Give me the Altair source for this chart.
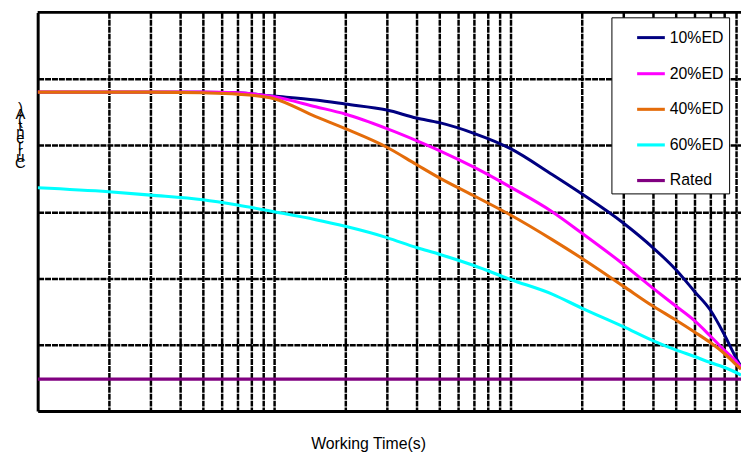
import altair as alt
import pandas as pd

# Working time (s) sample points, log-scaled x axis
times = [1, 2, 3, 5, 7, 10, 15, 20, 30, 40, 50, 70, 100, 150, 200, 300,
         400, 500, 600, 700, 800, 900, 944]

# Current values (grid step = 1 unit)
ed10 = [4.80, 4.80, 4.80, 4.80, 4.79, 4.74, 4.68, 4.62, 4.53, 4.41, 4.34, 4.18,
        3.95, 3.56, 3.27, 2.83, 2.46, 2.13, 1.80, 1.52, 1.16, 0.80, 0.67]
ed20 = [4.80, 4.80, 4.80, 4.80, 4.79, 4.73, 4.58, 4.47, 4.25, 4.07, 3.92, 3.67,
        3.37, 3.00, 2.68, 2.21, 1.85, 1.58, 1.36, 1.13, 0.92, 0.75, 0.66]
ed40 = [4.80, 4.80, 4.80, 4.79, 4.77, 4.70, 4.43, 4.25, 3.97, 3.71, 3.51, 3.24,
        2.95, 2.58, 2.30, 1.88, 1.58, 1.37, 1.19, 1.03, 0.87, 0.70, 0.63]
ed60 = [3.36, 3.30, 3.25, 3.18, 3.10, 3.00, 2.88, 2.78, 2.61, 2.46, 2.36, 2.19,
        1.98, 1.76, 1.55, 1.27, 1.06, 0.92, 0.82, 0.73, 0.66, 0.58, 0.54]
rated_times = [1, 944]
rated = [0.48, 0.48]

series_names = ["10%ED", "20%ED", "40%ED", "60%ED", "Rated"]
colors = ["#000080", "#FF00FF", "#E46C0A", "#00FFFF", "#800080"]
widths = [3, 3.2, 3, 2, 3]

x_grid = [2, 3, 4, 5, 6, 7, 8, 9, 10, 20, 30, 40, 50, 60, 70, 80, 90,
          100, 200, 300, 400, 500, 600, 700, 800, 900]
y_grid = [1, 2, 3, 4, 5]

x_title = "Working Time(s)"
y_title = [")", "A", "(", "t", "n", "e", "r", "r", "u", "C"]

rows = []
for t, v in zip(rated_times, rated):
    rows.append({"time": t, "current": v, "series": "Rated"})
for name, vals in [("60%ED", ed60), ("10%ED", ed10), ("20%ED", ed20), ("40%ED", ed40)]:
    for t, v in zip(times, vals):
        rows.append({"time": t, "current": v, "series": name})
df = pd.DataFrame(rows)

FONT = "Liberation Sans"

lines = alt.Chart(df).mark_line(interpolate="monotone", clip=True).encode(
    x=alt.X(
        "time:Q",
        scale=alt.Scale(type="log", domain=[1, 944], nice=False),
        axis=alt.Axis(
            values=x_grid, labels=False, ticks=False, grid=True,
            gridColor="black", gridWidth=2.5, gridDash=[6, 1], gridOpacity=1,
            domainColor="black", domainWidth=3,
            title=x_title, titleFont=FONT, titleFontSize=16,
            titleFontWeight="normal", titleColor="black",
            titleX=334, titleY=38, titleAlign="center", titleBaseline="alphabetic",
        ),
    ),
    y=alt.Y(
        "current:Q",
        scale=alt.Scale(domain=[0, 6], nice=False, zero=False),
        axis=alt.Axis(
            values=y_grid, labels=False, ticks=False, grid=True,
            gridColor="black", gridWidth=2.5, gridDash=[6, 1], gridOpacity=1,
            domainColor="black", domainWidth=3,
            title=y_title, titleFont=FONT, titleFontSize=15,
            titleFontWeight="normal", titleColor="black", titleAngle=0,
            titleX=-18, titleY=89, titleAlign="center", titleBaseline="top",
            titleLineHeight=6.2,
        ),
    ),
    color=alt.Color(
        "series:N",
        scale=alt.Scale(domain=series_names, range=colors),
        legend=alt.Legend(
            title=None, orient="none", legendX=580, legendY=5,
            fillColor="white", strokeColor="black", padding=5,
            symbolType="stroke", symbolSize=784, symbolStrokeWidth=3,
            symbolOffset=19, labelOffset=3, rowPadding=12,
            labelFont=FONT, labelFontSize=16, labelColor="black",
            labelExpr="datum.label + '    '",
        ),
    ),
    strokeWidth=alt.StrokeWidth(
        "series:N", scale=alt.Scale(domain=series_names, range=widths), legend=None
    ),
)

top_border = alt.Chart(pd.DataFrame({"k": [0]})).mark_rule(
    color="black", strokeWidth=3
).encode(x=alt.value(0), x2=alt.value(711), y=alt.value(0))

chart = alt.layer(lines, top_border).properties(
    width=711,
    height=403,
    autosize=alt.AutoSizeParams(type="none"),
    padding={"left": 30, "top": 2, "right": 0, "bottom": 40},
    background="white",
).configure_view(stroke=None)

chart.save("out.html", embed_options={"renderer": "svg", "actions": False})
